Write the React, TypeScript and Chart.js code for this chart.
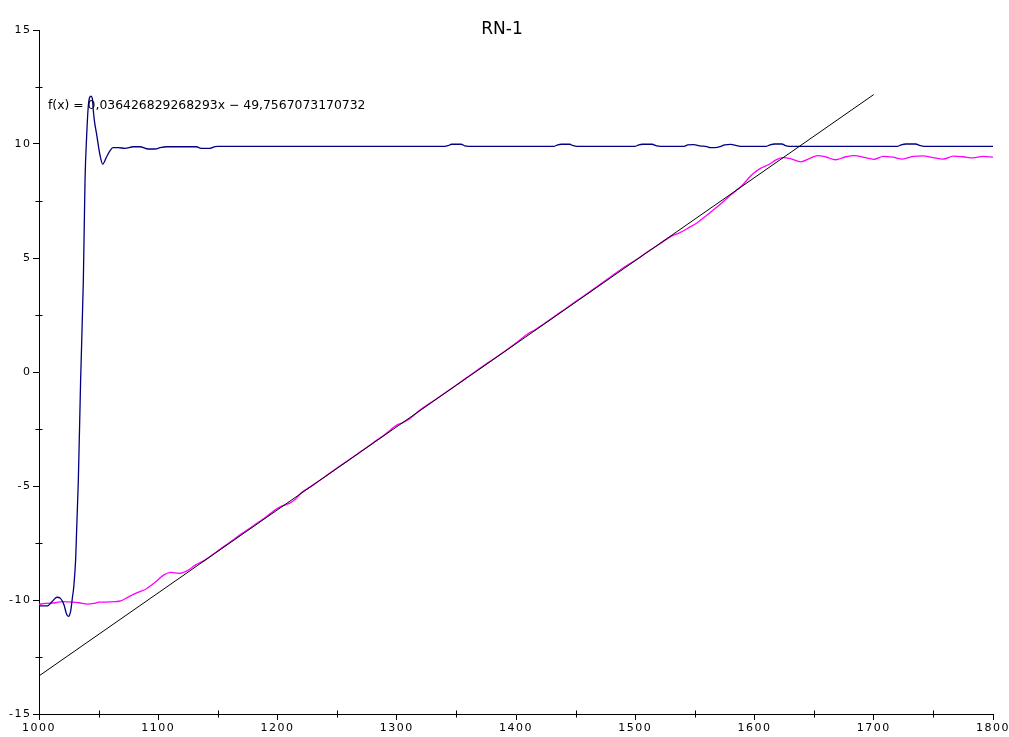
import React, { useEffect, useRef } from "react";
import { Chart, registerables } from "chart.js";

Chart.register(...registerables);

const titleText = "RN-1";
const fitLabel = "f(x) = 0,036426829268293x \u2212 49,7567073170732";

// Fitted line f(x) = 0.036426829268293x - 49.7567073170732, drawn from 1000 to 1700
const fitX = [1000, 1700];
const fitY = [-13.3299, 12.1689];

// Blue series (step response)
const blueX = [
  1000, 1007, 1011, 1015, 1018, 1021, 1023, 1024.6, 1026.5, 1028, 1029.2, 1030.75, 1033, 1034.9, 1037.2, 1038.6,
  1040, 1041.4, 1043.6, 1044.7, 1045.5, 1046.5, 1048.4, 1051.2, 1053.4, 1056.7, 1059.5, 1062, 1066.5, 1072,
  1079, 1084.6, 1091.7, 1097.3, 1101.5, 1107, 1132, 1135, 1138, 1143.4, 1147.6, 1150,
  1340, 1343, 1346, 1354, 1357, 1360, 1432, 1435, 1438, 1445, 1448, 1451,
  1500, 1503, 1506, 1514, 1518, 1521, 1541, 1544, 1549, 1554, 1560, 1563, 1567, 1571, 1575, 1580, 1585, 1588,
  1610, 1613, 1617, 1623, 1626, 1629, 1720, 1723, 1727, 1735, 1739, 1742, 1800,
];
const blueY = [
  -10.26, -10.26, -10.07, -9.88, -9.93, -10.22, -10.6, -10.72, -10.5, -9.9, -9.4, -8.2, -4.74, -0.35, 4.04, 8.42,
  10.39, 11.7, 12.1, 12.0, 11.5, 11.0, 10.4, 9.5, 9.12, 9.44, 9.7, 9.84, 9.84, 9.81,
  9.88, 9.88, 9.78, 9.78, 9.84, 9.88, 9.88, 9.82, 9.81, 9.81, 9.88, 9.9,
  9.9, 9.93, 9.99, 9.99, 9.92, 9.9, 9.9, 9.96, 9.99, 9.99, 9.93, 9.9,
  9.9, 9.96, 9.99, 9.99, 9.92, 9.9, 9.9, 9.96, 9.97, 9.92, 9.88, 9.84, 9.84, 9.88, 9.96, 9.98, 9.93, 9.9,
  9.9, 9.96, 10.0, 10.0, 9.93, 9.9, 9.9, 9.96, 10.0, 10.0, 9.93, 9.9, 9.9,
];

// Magenta series (ramp)
const magentaX = [
  1000, 1005, 1014, 1019.6, 1028, 1033.5, 1040.5, 1046, 1050.3, 1056, 1064.3, 1068.5, 1075.5, 1082.4, 1089.4,
  1096.4, 1104.8, 1110.4, 1117.4, 1124.4, 1131.4, 1139.8,
  1150, 1160, 1170, 1180, 1190, 1200, 1205, 1210, 1215, 1220, 1230, 1240, 1250, 1260, 1270, 1280, 1290,
  1300, 1305, 1310, 1320, 1330, 1340, 1350, 1360, 1370, 1380, 1390, 1400, 1410, 1415, 1420, 1430, 1440,
  1450, 1460, 1470, 1480, 1490, 1500, 1510, 1520, 1530, 1537, 1545, 1552, 1560, 1570, 1580, 1590, 1595,
  1599, 1605, 1612, 1618, 1624, 1630, 1639, 1646, 1653, 1660, 1668, 1676, 1684, 1692, 1700, 1708, 1716,
  1724, 1733, 1741, 1750, 1758, 1767, 1775, 1783, 1792, 1800,
];
const magentaY = [
  -10.19, -10.15, -10.12, -10.07, -10.09, -10.12, -10.18, -10.15, -10.09, -10.09, -10.07, -10.04, -9.85, -9.68, -9.53,
  -9.27, -8.9, -8.79, -8.83, -8.71, -8.46, -8.23,
  -7.84, -7.47, -7.09, -6.73, -6.37, -5.98, -5.85, -5.76, -5.58, -5.3, -4.95, -4.58, -4.21, -3.85, -3.48, -3.11, -2.74,
  -2.33, -2.22, -2.08, -1.65, -1.29, -0.93, -0.57, -0.2, 0.17, 0.53, 0.89, 1.27, 1.68, 1.82, 1.99, 2.36, 2.72,
  3.09, 3.45, 3.82, 4.2, 4.57, 4.9, 5.26, 5.6, 5.95, 6.1, 6.33, 6.55, 6.88, 7.3, 7.76, 8.2, 8.5,
  8.71, 8.93, 9.1, 9.3, 9.4, 9.36, 9.22, 9.36, 9.49, 9.43, 9.31, 9.43, 9.49, 9.41, 9.33, 9.46, 9.42,
  9.34, 9.46, 9.48, 9.4, 9.34, 9.47, 9.44, 9.39, 9.46, 9.42,
];

const xMin = 1000;
const xMax = 1800;
const xStep = 50;
const xLabelStep = 100;
const yMin = -15;
const yMax = 15;
const yStep = 2.5;
const yLabelStep = 5;

const zip = (xs: number[], ys: number[]) => xs.map((x, i) => ({ x, y: ys[i] }));

const decorPlugin = {
  id: "decor",
  beforeDraw(chart: any) {
    chart.ctx.letterSpacing = "1.5px";
  },
  afterDraw(chart: any) {
    const ctx = chart.ctx;
    const xs = chart.scales.x;
    const ys = chart.scales.y;
    const area = chart.chartArea;
    ctx.save();
    ctx.letterSpacing = "0px";
    ctx.strokeStyle = "#000";
    ctx.lineWidth = 1;
    ctx.beginPath();
    xs.ticks.forEach((t: any) => {
      if (t.value % xLabelStep !== 0) {
        const px = Math.round(xs.getPixelForValue(t.value)) + 0.5;
        ctx.moveTo(px, area.bottom - 3.5);
        ctx.lineTo(px, area.bottom + 3.5);
      }
    });
    ys.ticks.forEach((t: any) => {
      if (t.value % yLabelStep !== 0) {
        const py = Math.round(ys.getPixelForValue(t.value)) + 0.5;
        ctx.moveTo(area.left - 3.5, py);
        ctx.lineTo(area.left + 3.5, py);
      }
    });
    ctx.stroke();

    ctx.fillStyle = "#000";
    ctx.font = '17px "DejaVu Sans"';
    ctx.textAlign = "center";
    ctx.textBaseline = "middle";
    ctx.fillText(titleText, 502, 30);

    ctx.font = '12.4px "DejaVu Sans"';
    ctx.textAlign = "left";
    ctx.fillText(fitLabel, 48, 106);
    ctx.restore();
  },
};

export default function App() {
  const ref = useRef<HTMLCanvasElement | null>(null);
  useEffect(() => {
    if (!ref.current) return;
    const chart = new Chart(ref.current, {
      type: "line",
      data: {
        datasets: [
          {
            label: "fit",
            data: zip(fitX, fitY),
            borderColor: "#000000",
            borderWidth: 1,
            pointRadius: 0,
            order: 0,
          },
          {
            label: "blue",
            data: zip(blueX, blueY),
            borderColor: "#000080",
            borderWidth: 1.3,
            pointRadius: 0,
            cubicInterpolationMode: "monotone",
            order: 1,
          },
          {
            label: "magenta",
            data: zip(magentaX, magentaY),
            borderColor: "#ff00ff",
            borderWidth: 1.3,
            pointRadius: 0,
            cubicInterpolationMode: "monotone",
            order: 2,
          },
        ],
      },
      options: {
        animation: false,
        responsive: true,
        maintainAspectRatio: false,
        layout: { padding: { top: 30, right: 16, left: 0, bottom: 0 } },
        plugins: {
          legend: { display: false },
          title: { display: false },
          tooltip: { enabled: false },
        },
        scales: {
          x: {
            type: "linear",
            min: xMin,
            max: xMax,
            afterFit: (s: any) => {
              s.height = 23;
            },
            border: { color: "#000", width: 1 },
            grid: {
              drawOnChartArea: false,
              tickLength: 6,
              color: (c: any) => (c.tick && c.tick.value % xLabelStep === 0 ? "#000" : "rgba(0,0,0,0)"),
            },
            ticks: {
              stepSize: xStep,
              autoSkip: false,
              maxRotation: 0,
              padding: 2,
              color: "#000",
              font: { family: "DejaVu Sans", size: 11 },
              callback: (v: any) => (Number(v) % xLabelStep === 0 ? String(v) : ""),
            },
          },
          y: {
            type: "linear",
            min: yMin,
            max: yMax,
            afterFit: (s: any) => {
              s.width = 39;
            },
            border: { color: "#000", width: 1 },
            grid: {
              drawOnChartArea: false,
              tickLength: 6,
              color: (c: any) => (c.tick && c.tick.value % yLabelStep === 0 ? "#000" : "rgba(0,0,0,0)"),
            },
            ticks: {
              stepSize: yStep,
              autoSkip: false,
              padding: 1.5,
              color: "#000",
              font: { family: "DejaVu Sans", size: 11 },
              callback: (v: any) => (Number(v) % yLabelStep === 0 ? String(v) : ""),
            },
          },
        },
      },
      plugins: [decorPlugin],
    } as any);
    return () => chart.destroy();
  }, []);
  return (
    <div style={{ position: "fixed", left: 0, top: 0, width: 1009, height: 737, background: "#fff" }}>
      <canvas ref={ref} />
    </div>
  );
}
